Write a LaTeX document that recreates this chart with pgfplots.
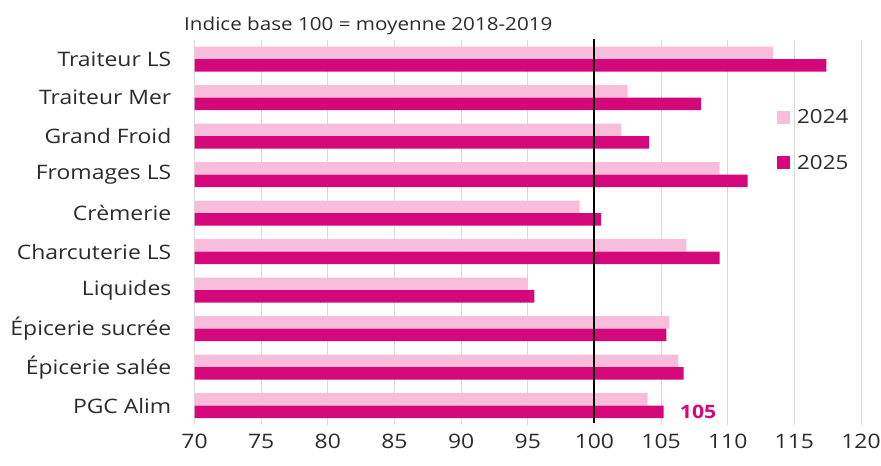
\documentclass[border=0pt]{standalone}
\usepackage{pgfplots}
\pgfplotsset{compat=1.18}
\usepackage{fontspec}
\setmainfont{Open Sans}[FakeStretch=1.15]
\definecolor{c24}{HTML}{F8BDDB}
\definecolor{c25}{HTML}{D4087A}
\definecolor{gridc}{HTML}{DADADA}
\definecolor{txt}{HTML}{2B2B2B}
\begin{document}
\begin{tikzpicture}
\useasboundingbox (0,0) rectangle (881bp,466bp);
\node[anchor=west, font=\fontsize{18}{20}\selectfont, text=txt, inner sep=0pt] at (184bp,440.5bp) {Indice base 100 = moyenne 2018-2019};
\begin{axis}[
  at={(194.5bp,41bp)}, anchor=south west,
  scale only axis, width=666.5bp, height=385bp,
  xmin=70, xmax=120, ymin=-0.5, ymax=9.5,
  xbar, bar width=12.5bp,
  xtick={70,75,...,120},
  ytick={0,...,9},
  yticklabels={PGC Alim, Épicerie salée, Épicerie sucrée, Liquides, Charcuterie LS, Crèmerie, Fromages LS, Grand Froid, Traiteur Mer, Traiteur LS},
  axis line style={draw=none},
  major tick length=0pt,
  xmajorgrids, grid style={gridc, line width=0.8pt},
  /pgf/number format/assume math mode=true,
  xticklabel style={font=\fontsize{20}{22}\selectfont, text=txt, anchor=center, yshift=-16bp},
  yticklabel style={font=\fontsize{20}{22}\selectfont, text=txt, anchor=east, inner sep=0pt, xshift=-23bp},
  legend style={at={(rel axis cs:0.8695,0.83)}, anchor=north west, draw=none, fill=none,
    font=\fontsize{19.5}{22}\selectfont, text=txt, row sep=26bp,
    nodes={inner xsep=7bp}},
  legend cell align=left,
]
\addplot[fill=c24, draw=none, bar shift=6.25bp,
  legend image code/.code={\fill[c24] (0bp,-6.5bp) rectangle (13bp,6.5bp);}]
  coordinates {(104.0,0) (106.3,1) (105.6,2) (95.0,3) (106.9,4) (98.9,5) (109.4,6) (102.0,7) (102.5,8) (113.4,9)};
\addlegendentry{2024}
\addplot[fill=c25, draw=none, bar shift=-6.25bp,
  legend image code/.code={\fill[c25] (0bp,-6.5bp) rectangle (13bp,6.5bp);}]
  coordinates {(105.2,0) (106.7,1) (105.4,2) (95.5,3) (109.4,4) (100.5,5) (111.5,6) (104.1,7) (108.0,8) (117.4,9)};
\addlegendentry{2025}
\draw[black, line width=2.1pt] (axis cs:100,-0.45) -- (axis cs:100,9.55);
\node[anchor=west, text=c25, font=\fontsize{18.5}{22}\selectfont\bfseries, inner sep=0pt] at (axis cs:105.2,0) [yshift=-6.25bp, xshift=16bp] {105};
\end{axis}
\end{tikzpicture}
\end{document}
